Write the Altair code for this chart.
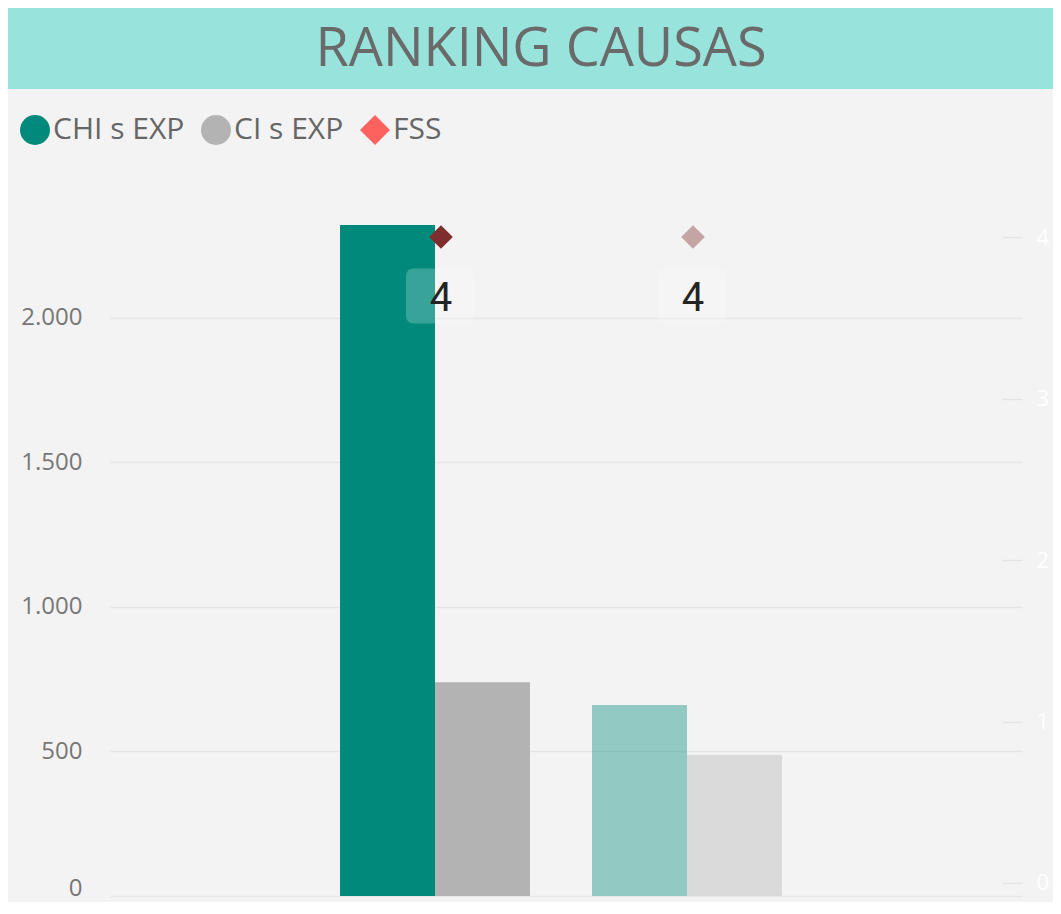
import altair as alt
import pandas as pd

TITLE = "RANKING CAUSAS"
CAUSAS = ["Causa A", "Causa B"]
CHI_S_EXP = [2322, 661]
CI_S_EXP = [740, 488]
FSS = [4, 4]
SERIES = ["CHI s EXP", "CI s EXP", "FSS"]
SERIES_COLORS = ["#01897B", "#B3B3B3", "#FD625E"]
FSS_MARK_COLOR = "#7F2D2D"
HIGHLIGHT = [1.0, 0.4]  # first cause selected, second dimmed

bars_df = pd.DataFrame(
    [{"causa": c, "serie": SERIES[0], "valor": v, "op": o} for c, v, o in zip(CAUSAS, CHI_S_EXP, HIGHLIGHT)]
    + [{"causa": c, "serie": SERIES[1], "valor": v, "op": o} for c, v, o in zip(CAUSAS, CI_S_EXP, HIGHLIGHT)]
)
fss_df = pd.DataFrame(
    [{"causa": c, "serie": SERIES[2], "fss": v, "op": o, "dcol": FSS_MARK_COLOR} for c, v, o in zip(CAUSAS, FSS, HIGHLIGHT)]
)

FONT = "Open Sans"
PAD_L, PAD_T, PAD_R, PAD_B = 102, 188, 31, 6
W, H = 912, 700
P_INNER, P_OUTER = 0.246, 0.9325
STEP = W / (len(CAUSAS) - P_INNER + 2 * P_OUTER)
BANDWIDTH = STEP * (1 - P_INNER)

legend_def = alt.Legend(
    orient="none", legendX=-90, legendY=-81, direction="horizontal", title=None,
    labelFont=FONT, labelFontSize=30, labelColor="#666666", symbolSize=900,
    symbolStrokeWidth=0, labelOffset=3, columnPadding=16, symbolOpacity=1,
)
color_scale = alt.Scale(domain=SERIES, range=SERIES_COLORS)
shape_scale = alt.Scale(domain=SERIES, range=["circle", "circle", "diamond"])
x_scale = alt.Scale(domain=CAUSAS, paddingInner=P_INNER, paddingOuter=P_OUTER)

right_axis = alt.Axis(
    orient="right", values=[0, 1, 2, 3, 4], labelColor="#FFFFFF", labelFont=FONT,
    labelFontSize=22, ticks=True, tickColor="#E4E4E4", tickSize=20, tickWidth=1.5,
    offset=-20, labelPadding=14, domain=False, grid=False, title=None,
)
y_right = alt.Scale(domain=[-0.0805, 4.254], nice=False, zero=False)

banner = alt.Chart(alt.Data(values=[{}])).mark_rect(color="#98E3DC").encode(
    x=alt.value(-PAD_L), x2=alt.value(W + PAD_R), y=alt.value(-PAD_T), y2=alt.value(-PAD_T + 81)
)
title = alt.Chart(alt.Data(values=[{}])).mark_text(
    font=FONT, fontSize=54, color="#6A6A6A", baseline="alphabetic", align="center"
).encode(x=alt.value(431), y=alt.value(-PAD_T + 58), text=alt.value(TITLE))

bars = alt.Chart(bars_df).mark_bar().encode(
    x=alt.X("causa:N", scale=x_scale, axis=None, sort=CAUSAS),
    xOffset=alt.XOffset("serie:N", sort=SERIES[:2],
                        scale=alt.Scale(range=[-5, BANDWIDTH - 5], paddingInner=0, paddingOuter=0)),
    y=alt.Y("valor:Q", scale=alt.Scale(domain=[0, 2422], nice=False),
            axis=alt.Axis(values=[0, 500, 1000, 1500, 2000], labelFont=FONT, labelFontSize=24,
                          labelColor="#777777", labelPadding=28, ticks=False, domain=False,
                          grid=True, gridColor="#E6E6E6", gridWidth=1.5, title=None,
                          labelFlush=True, labelFlushOffset=4,
                          labelExpr="replace(format(datum.value, ','), ',', '.')")),
    color=alt.Color("serie:N", scale=color_scale, legend=legend_def),
    opacity=alt.Opacity("op:Q", scale=None),
)

diamonds = alt.Chart(fss_df).mark_point(filled=True, size=560, xOffset=1).encode(
    x=alt.X("causa:N", scale=x_scale, axis=None, sort=CAUSAS),
    y=alt.Y("fss:Q", scale=y_right, axis=right_axis),
    color=alt.Color("serie:N", scale=color_scale, legend=legend_def),
    shape=alt.Shape("serie:N", scale=shape_scale, legend=legend_def),
    fill=alt.Fill("dcol:N", scale=None),
    opacity=alt.Opacity("op:Q", scale=None),
)

BOX_PATH = ("M -0.765,-0.81 L 0.765,-0.81 Q 1,-0.81 1,-0.575 L 1,0.575 Q 1,0.81 0.765,0.81 "
            "L -0.765,0.81 Q -1,0.81 -1,0.575 L -1,-0.575 Q -1,-0.81 -0.765,-0.81 Z")
boxes = alt.Chart(fss_df).mark_point(
    shape=BOX_PATH, size=4624, filled=True, fill="#FFFFFF", opacity=0.22, strokeWidth=0,
    xOffset=0, yOffset=59,
).encode(
    x=alt.X("causa:N", scale=x_scale, axis=None, sort=CAUSAS),
    y=alt.Y("fss:Q", scale=y_right, axis=right_axis),
)
labels = alt.Chart(fss_df).mark_text(
    font="Roboto", fontSize=40, color="#252423", dx=1, dy=62, baseline="middle", align="center",
).encode(
    x=alt.X("causa:N", scale=x_scale, axis=None, sort=CAUSAS),
    y=alt.Y("fss:Q", scale=y_right, axis=right_axis),
    text=alt.Text("fss:Q", format="d"),
)

right_layer = alt.layer(diamonds, boxes, labels)

chart = alt.layer(banner, title, bars, right_layer).resolve_scale(y="independent").properties(
    width=W, height=H,
    autosize=alt.AutoSizeParams(type="none"),
    padding={"left": PAD_L, "top": PAD_T, "right": PAD_R, "bottom": PAD_B},
    background="#F3F3F3",
).configure_view(stroke=None)

chart.save("out.html", embed_options={"renderer": "svg", "actions": False})
